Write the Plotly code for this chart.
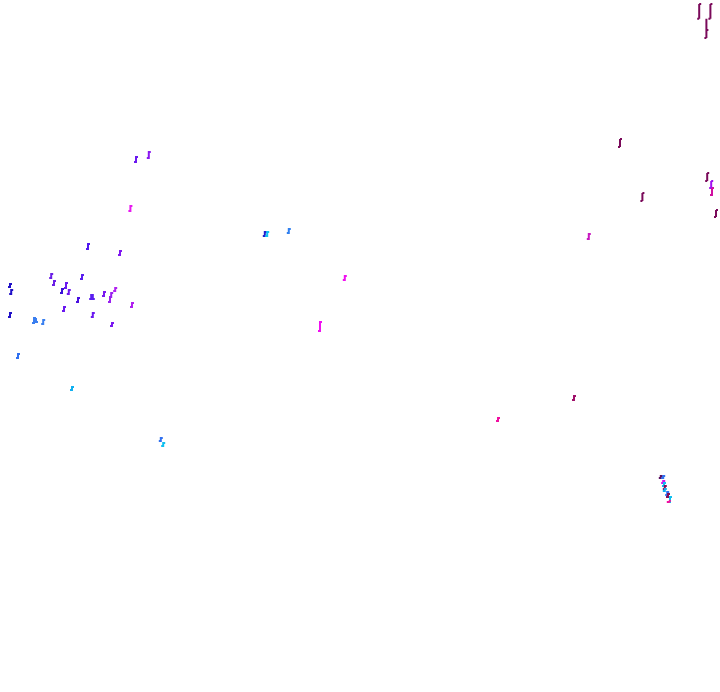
import plotly.graph_objects as go

# Data: one OHLC bar per series point
x_vals = [87.4, 88.8, 88.3, 17.0, 18.6, 16.3, 33.1, 33.4, 36.1, 11.0,
          15.0, 77.5, 88.4, 88.9, 89.0, 80.3, 89.5, 73.6, 43.1, 40.0,
          1.25, 1.4, 6.4, 6.75, 7.75, 8.25, 8.6, 8.0, 1.25, 4.25,
          4.5, 5.4, 10.25, 9.75, 11.4, 11.6, 13.0, 13.75, 13.9, 14.4,
          16.5, 11.6, 14.0, 2.25, 9.0, 20.1, 20.4, 71.75, 62.25, 82.6,
          82.9, 82.9, 83.0, 83.1, 83.1, 83.4, 83.5, 83.75, 83.6]
high_vals = [172.0, 172.0, 168.3, 134.0, 135.25, 121.75, 115.25, 115.25, 116.0, 112.25,
             110.5, 138.25, 129.75, 127.75, 126.0, 124.75, 120.5, 114.75, 104.25, 92.75,
             102.25, 100.75, 104.75, 103.0, 101.0, 102.5, 100.75, 96.5, 95.0, 93.75,
             93.5, 93.25, 104.5, 98.75, 99.5, 99.5, 100.25, 99.0, 100.0, 101.25,
             97.5, 95.0, 92.5, 84.75, 76.5, 63.75, 62.5, 74.25, 68.75, 54.25,
             54.25, 53.0, 52.5, 51.75, 51.0, 50.25, 49.75, 49.0, 47.75]
low_vals = [168.3, 168.3, 163.5, 132.25, 133.25, 120.0, 113.75, 113.75, 114.5, 110.5,
            109.0, 136.25, 127.75, 126.0, 124.0, 122.75, 118.75, 113.0, 102.75, 90.0,
            101.0, 99.25, 103.25, 101.5, 99.5, 100.75, 99.25, 95.0, 93.5, 92.0,
            92.25, 91.75, 103.0, 97.25, 98.0, 98.0, 98.75, 97.25, 98.5, 100.0,
            96.0, 93.5, 91.25, 83.25, 75.25, 62.5, 61.25, 72.75, 67.5, 53.25,
            53.25, 52.0, 51.25, 50.5, 50.0, 49.0, 48.5, 47.25, 47.25]
open_vals = [168.3, 168.3, 163.5, 132.5, 133.5, 120.25, 114.0, 114.0, 114.75, 110.75,
             109.25, 136.25, 127.75, 126.0, 124.25, 122.75, 118.75, 113.25, 103.0, 90.25,
             101.25, 99.5, 103.5, 101.75, 99.75, 101.0, 99.5, 95.25, 93.75, 92.25,
             93.25, 92.0, 103.25, 97.5, 98.25, 99.25, 99.0, 97.5, 98.75, 100.25,
             96.25, 93.75, 91.5, 83.5, 75.5, 62.75, 61.5, 73.0, 67.75, 53.5,
             53.5, 52.25, 51.5, 50.75, 50.25, 49.25, 48.75, 47.5, 47.5]
close_vals = [172.0, 172.0, 165.5, 133.75, 135.0, 121.5, 115.0, 115.0, 115.75, 112.0,
              110.25, 138.25, 129.75, 127.75, 126.0, 124.75, 120.5, 114.5, 104.0, 92.5,
              102.0, 100.5, 104.5, 102.75, 100.75, 102.25, 100.5, 96.25, 94.75, 93.5,
              92.5, 93.0, 104.25, 98.5, 99.25, 98.25, 100.0, 98.75, 99.75, 101.0,
              97.25, 94.75, 92.25, 84.5, 76.25, 63.5, 62.25, 74.0, 68.5, 54.0,
              54.0, 52.75, 52.25, 51.5, 50.75, 50.0, 49.5, 48.75, 47.75]
bar_colors = ["#7a0a5a", "#7a0a5a", "#7a0a5a", "#6a18f0", "#8a18f0", "#e818f0", "#2020d0", "#10c0f0", "#3080f0", "#5018f0",
              "#8018f0", "#7a0a5a", "#7a0a5a", "#a010f0", "#d010a0", "#7a0a5a", "#7a0a5a", "#c818c0", "#f010f0", "#f010f0",
              "#2010c8", "#2010c8", "#6a1ee6", "#6a1ee6", "#3a10d8", "#6a18f0", "#7018f0", "#6a18f0", "#2010c8", "#3a7ef0",
              "#3a7ef0", "#3a80f0", "#5a1ef0", "#4a10e0", "#5a1ef0", "#5a1ef0", "#7a18f0", "#9a20f0", "#9a20f0", "#b020f0",
              "#b020f0", "#6a18f0", "#7a18f0", "#3070f0", "#10b0f0", "#3070f0", "#10c0f0", "#a0106a", "#f010a0", "#5a1060",
              "#3070f0", "#d010f0", "#10c0f0", "#80105a", "#10b0f0", "#3070f0", "#80105a", "#10c0f0", "#f010a0"]

fig = go.Figure()
for xv, o, h, l, c, col in zip(x_vals, open_vals, high_vals, low_vals, close_vals, bar_colors):
    fig.add_trace(go.Ohlc(
        x=[xv], open=[o], high=[h], low=[l], close=[c],
        increasing=dict(line=dict(color=col, width=2)),
        decreasing=dict(line=dict(color=col, width=2)),
        tickwidth=0.25, showlegend=False, hoverinfo="skip",
    ))

fig.update_layout(
    width=720, height=692,
    margin=dict(l=0, r=0, t=0, b=0),
    paper_bgcolor="white", plot_bgcolor="white",
    showlegend=False,
    xaxis=dict(visible=False, range=[0, 90], rangeslider=dict(visible=False)),
    yaxis=dict(visible=False, range=[0, 173]),
)

fig.write_html("out.html", config={"displayModeBar": False},
               post_script="document.body.style.margin='0';document.body.style.overflow='hidden';")
